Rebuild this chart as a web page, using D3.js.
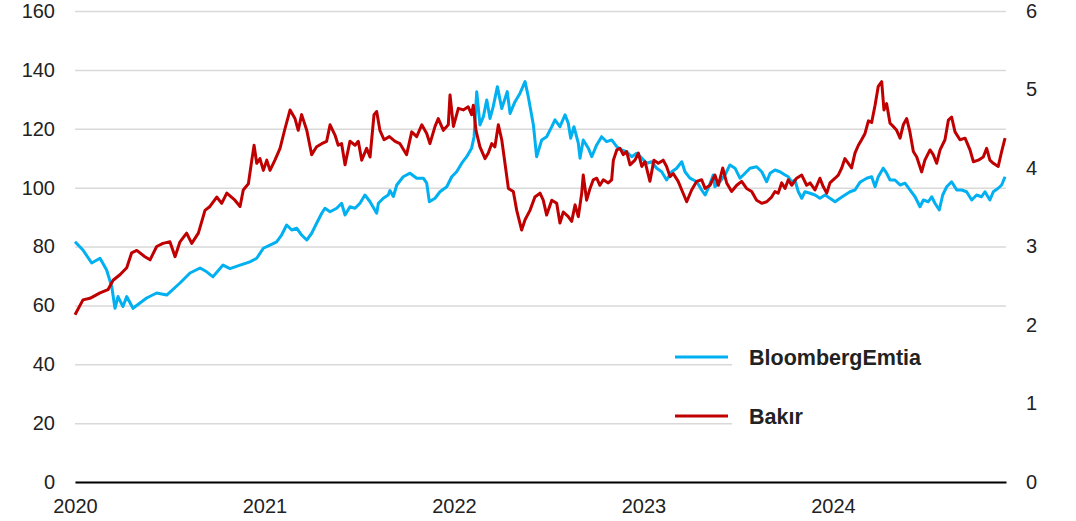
<!DOCTYPE html>
<html>
<head>
<meta charset="utf-8">
<script src="https://cdn.jsdelivr.net/npm/d3@7"></script>
<style>
  body { margin: 0; background: #fff; }
  svg { display: block; font-family: "Liberation Sans", Arial, sans-serif; }
</style>
</head>
<body>
<svg id="chart"></svg>
<script>
const width = 1076;
const height = 521;

// tick values
const years = [2020, 2021, 2022, 2023, 2024];
const leftTicks = [0, 20, 40, 60, 80, 100, 120, 140, 160];
const rightTicks = [0, 1, 2, 3, 4, 5, 6];

// series: [decimal year, value]
const emtia = [
  [2020.000, 81.6], [2020.042, 78.8], [2020.088, 74.4], [2020.132, 76.0], [2020.167, 72.0],
  [2020.194, 66.3], [2020.211, 59.0], [2020.227, 63.0], [2020.253, 59.6], [2020.273, 63.0],
  [2020.306, 59.0], [2020.378, 62.5], [2020.431, 64.2], [2020.484, 63.5], [2020.554, 67.6],
  [2020.607, 71.0], [2020.660, 72.7], [2020.695, 71.4], [2020.728, 69.7], [2020.781, 73.7],
  [2020.818, 72.5], [2020.871, 73.7], [2020.923, 74.8], [2020.959, 76.0], [2020.994, 79.4],
  [2021.029, 80.5], [2021.064, 81.6], [2021.090, 83.9], [2021.117, 87.3], [2021.144, 85.6],
  [2021.170, 86.2], [2021.196, 83.9], [2021.223, 82.2], [2021.249, 84.5], [2021.275, 87.9],
  [2021.302, 91.3], [2021.319, 93.0], [2021.346, 91.8], [2021.381, 93.0], [2021.407, 94.7],
  [2021.425, 90.7], [2021.451, 93.5], [2021.478, 93.0], [2021.504, 94.7], [2021.530, 97.5],
  [2021.557, 95.2], [2021.592, 91.3], [2021.601, 94.7], [2021.627, 96.4], [2021.653, 97.5],
  [2021.662, 99.0], [2021.680, 97.0], [2021.698, 100.9], [2021.732, 103.7], [2021.768, 104.9],
  [2021.803, 103.2], [2021.838, 103.2], [2021.856, 101.5], [2021.870, 95.2], [2021.900, 96.4],
  [2021.926, 98.6], [2021.962, 100.3], [2021.988, 103.7], [2022.014, 105.4], [2022.041, 108.3],
  [2022.067, 110.5], [2022.093, 113.4], [2022.106, 117.3], [2022.120, 132.6], [2022.137, 121.3],
  [2022.155, 124.1], [2022.173, 129.8], [2022.190, 123.5], [2022.207, 127.5], [2022.229, 134.3],
  [2022.252, 126.9], [2022.281, 132.6], [2022.296, 125.2], [2022.322, 129.2], [2022.348, 132.0],
  [2022.375, 136.0], [2022.392, 130.9], [2022.419, 121.3], [2022.436, 110.5], [2022.463, 116.2],
  [2022.489, 117.3], [2022.516, 120.7], [2022.533, 123.0], [2022.559, 120.7], [2022.586, 124.7],
  [2022.603, 121.9], [2022.616, 116.8], [2022.633, 120.7], [2022.656, 115.1], [2022.665, 110.0],
  [2022.682, 116.2], [2022.709, 113.4], [2022.727, 110.5], [2022.753, 114.5], [2022.779, 117.3],
  [2022.806, 115.6], [2022.832, 116.2], [2022.859, 113.9], [2022.885, 112.8], [2022.911, 112.2],
  [2022.938, 110.5], [2022.964, 111.7], [2022.991, 110.0], [2023.017, 108.3], [2023.043, 108.8],
  [2023.070, 106.6], [2023.096, 105.4], [2023.122, 102.6], [2023.149, 105.4], [2023.175, 106.6],
  [2023.202, 108.8], [2023.219, 105.4], [2023.245, 103.2], [2023.281, 102.0], [2023.307, 99.2],
  [2023.325, 97.5], [2023.342, 99.8], [2023.368, 104.3], [2023.377, 100.3], [2023.404, 102.0],
  [2023.430, 104.3], [2023.456, 107.7], [2023.483, 106.6], [2023.509, 103.2], [2023.536, 104.9],
  [2023.562, 106.6], [2023.597, 107.1], [2023.624, 105.4], [2023.650, 102.0], [2023.668, 104.9],
  [2023.694, 106.0], [2023.720, 105.4], [2023.747, 104.3], [2023.764, 103.7], [2023.782, 102.0],
  [2023.799, 102.6], [2023.817, 98.6], [2023.835, 96.4], [2023.852, 98.6], [2023.879, 98.1],
  [2023.905, 97.5], [2023.931, 96.4], [2023.958, 97.5], [2023.984, 96.4], [2024.011, 95.2],
  [2024.037, 96.4], [2024.063, 97.5], [2024.090, 98.6], [2024.116, 99.2], [2024.142, 101.8],
  [2024.178, 103.2], [2024.204, 103.7], [2024.222, 100.3], [2024.239, 103.7], [2024.265, 106.6],
  [2024.283, 104.9], [2024.301, 102.6], [2024.327, 102.6], [2024.354, 100.9], [2024.380, 101.5],
  [2024.406, 99.2], [2024.433, 96.9], [2024.459, 93.5], [2024.477, 95.8], [2024.503, 95.2],
  [2024.521, 96.9], [2024.538, 94.7], [2024.561, 92.4], [2024.579, 97.5], [2024.600, 100.3],
  [2024.626, 102.0], [2024.653, 99.2], [2024.679, 99.2], [2024.705, 98.6], [2024.732, 95.8],
  [2024.758, 97.5], [2024.784, 96.9], [2024.802, 98.6], [2024.828, 95.8], [2024.846, 98.6],
  [2024.872, 99.8], [2024.890, 100.9], [2024.908, 103.7]
];

const bakir = [
  [2020.000, 2.13], [2020.042, 2.32], [2020.079, 2.34], [2020.132, 2.41], [2020.174, 2.45],
  [2020.201, 2.57], [2020.237, 2.64], [2020.273, 2.73], [2020.299, 2.92], [2020.326, 2.95],
  [2020.369, 2.87], [2020.396, 2.83], [2020.431, 3.00], [2020.464, 3.04], [2020.501, 3.06],
  [2020.528, 2.87], [2020.554, 3.06], [2020.589, 3.17], [2020.616, 3.04], [2020.651, 3.17],
  [2020.686, 3.46], [2020.712, 3.51], [2020.748, 3.63], [2020.774, 3.55], [2020.801, 3.68],
  [2020.844, 3.59], [2020.871, 3.51], [2020.888, 3.72], [2020.915, 3.80], [2020.933, 4.10],
  [2020.945, 4.29], [2020.959, 4.06], [2020.976, 4.12], [2020.994, 3.97], [2021.012, 4.10],
  [2021.029, 3.97], [2021.055, 4.10], [2021.082, 4.25], [2021.108, 4.50], [2021.135, 4.74],
  [2021.161, 4.63], [2021.178, 4.48], [2021.196, 4.68], [2021.223, 4.48], [2021.249, 4.17],
  [2021.275, 4.27], [2021.302, 4.31], [2021.328, 4.34], [2021.346, 4.55], [2021.372, 4.42],
  [2021.389, 4.29], [2021.407, 4.31], [2021.425, 4.04], [2021.451, 4.34], [2021.478, 4.29],
  [2021.495, 4.34], [2021.513, 4.10], [2021.539, 4.25], [2021.557, 4.14], [2021.578, 4.68],
  [2021.592, 4.72], [2021.609, 4.48], [2021.631, 4.36], [2021.659, 4.40], [2021.689, 4.34],
  [2021.715, 4.31], [2021.750, 4.17], [2021.777, 4.46], [2021.803, 4.40], [2021.830, 4.55],
  [2021.856, 4.44], [2021.873, 4.31], [2021.900, 4.53], [2021.917, 4.63], [2021.944, 4.48],
  [2021.970, 4.55], [2021.979, 4.93], [2021.997, 4.53], [2022.023, 4.76], [2022.049, 4.74],
  [2022.075, 4.78], [2022.093, 4.68], [2022.102, 4.80], [2022.116, 4.48], [2022.137, 4.27],
  [2022.164, 4.12], [2022.181, 4.19], [2022.199, 4.31], [2022.216, 4.27], [2022.234, 4.55],
  [2022.252, 4.36], [2022.269, 4.06], [2022.287, 3.74], [2022.313, 3.70], [2022.331, 3.46],
  [2022.357, 3.21], [2022.375, 3.34], [2022.401, 3.46], [2022.427, 3.63], [2022.454, 3.68],
  [2022.471, 3.59], [2022.489, 3.40], [2022.516, 3.59], [2022.542, 3.55], [2022.559, 3.30],
  [2022.577, 3.44], [2022.603, 3.38], [2022.621, 3.32], [2022.639, 3.53], [2022.656, 3.38],
  [2022.674, 3.68], [2022.682, 3.91], [2022.700, 3.59], [2022.718, 3.74], [2022.735, 3.85],
  [2022.753, 3.87], [2022.770, 3.78], [2022.788, 3.85], [2022.814, 3.81], [2022.832, 3.85],
  [2022.841, 4.10], [2022.859, 4.23], [2022.876, 4.25], [2022.893, 4.17], [2022.911, 4.21],
  [2022.929, 4.04], [2022.955, 4.10], [2022.973, 4.19], [2022.991, 4.02], [2023.008, 4.08],
  [2023.034, 3.83], [2023.055, 4.10], [2023.078, 4.06], [2023.104, 4.10], [2023.122, 4.02],
  [2023.140, 3.89], [2023.157, 3.93], [2023.183, 3.83], [2023.202, 3.72], [2023.228, 3.57],
  [2023.254, 3.72], [2023.281, 3.83], [2023.307, 3.85], [2023.325, 3.74], [2023.351, 3.78],
  [2023.377, 3.91], [2023.395, 3.78], [2023.418, 4.00], [2023.439, 3.81], [2023.465, 3.70],
  [2023.492, 3.78], [2023.518, 3.83], [2023.544, 3.74], [2023.571, 3.70], [2023.597, 3.59],
  [2023.624, 3.55], [2023.650, 3.57], [2023.676, 3.63], [2023.694, 3.70], [2023.711, 3.68],
  [2023.729, 3.81], [2023.747, 3.74], [2023.764, 3.85], [2023.782, 3.78], [2023.808, 3.87],
  [2023.835, 3.91], [2023.861, 3.78], [2023.879, 3.81], [2023.905, 3.72], [2023.931, 3.87],
  [2023.949, 3.76], [2023.967, 3.68], [2023.984, 3.81], [2024.011, 3.87], [2024.028, 3.91],
  [2024.046, 4.00], [2024.063, 4.12], [2024.081, 4.06], [2024.098, 4.00], [2024.116, 4.19],
  [2024.134, 4.29], [2024.151, 4.36], [2024.169, 4.44], [2024.187, 4.60], [2024.204, 4.58],
  [2024.222, 4.80], [2024.239, 5.04], [2024.257, 5.10], [2024.269, 4.74], [2024.283, 4.82],
  [2024.301, 4.57], [2024.318, 4.53], [2024.336, 4.48], [2024.354, 4.38], [2024.371, 4.55],
  [2024.389, 4.63], [2024.406, 4.46], [2024.424, 4.21], [2024.442, 4.14], [2024.468, 3.95],
  [2024.485, 4.10], [2024.512, 4.23], [2024.529, 4.17], [2024.547, 4.06], [2024.565, 4.23],
  [2024.591, 4.36], [2024.609, 4.61], [2024.626, 4.65], [2024.644, 4.46], [2024.670, 4.36],
  [2024.697, 4.38], [2024.723, 4.23], [2024.741, 4.08], [2024.767, 4.10], [2024.793, 4.14],
  [2024.811, 4.25], [2024.828, 4.10], [2024.846, 4.06], [2024.872, 4.02], [2024.890, 4.21],
  [2024.908, 4.38]
];

const seriesNames = ["BloombergEmtia", "Bakır"];
const seriesColors = ["#00b0f0", "#c00000"];

const plotLeft = 75, plotRight = 1006, plotTop = 11, plotBottom = 482;

const svg = d3.select("#chart")
  .attr("width", width)
  .attr("height", height);

svg.append("rect").attr("width", width).attr("height", height).attr("fill", "#fff");

const x = d3.scaleLinear().domain([2020, 2024.913]).range([plotLeft, plotRight]);
const yL = d3.scaleLinear().domain([0, 160]).range([plotBottom, plotTop]);
const yR = d3.scaleLinear().domain([0, 6]).range([plotBottom, plotTop]);

// left axis + gridlines
const gL = svg.append("g")
  .attr("transform", `translate(${plotLeft},0)`)
  .call(d3.axisLeft(yL).tickValues(leftTicks).tickSize(-(plotRight - plotLeft)).tickPadding(20).tickFormat(d3.format("d")));
gL.select(".domain").remove();
gL.selectAll(".tick line")
  .attr("stroke", "#d9d9d9")
  .attr("stroke-width", 1.5);
gL.selectAll(".tick text")
  .attr("font-size", 20)
  .attr("fill", "#222");

// white box behind the legend hides part of the gridlines
svg.append("rect")
  .attr("x", 732).attr("y", 330)
  .attr("width", plotRight - 732).attr("height", 115)
  .attr("fill", "#fff");

// right axis
const gR = svg.append("g")
  .attr("transform", `translate(${plotRight},0)`)
  .call(d3.axisRight(yR).tickValues(rightTicks).tickSize(0).tickPadding(20).tickFormat(d3.format("d")));
gR.select(".domain").remove();
gR.selectAll(".tick text")
  .attr("font-size", 20)
  .attr("fill", "#222");

// x axis
const gX = svg.append("g")
  .attr("transform", `translate(0,${plotBottom})`)
  .call(d3.axisBottom(x).tickValues(years).tickSize(0).tickPadding(17).tickFormat(d3.format("d")));
gX.select(".domain")
  .attr("stroke", "#000")
  .attr("stroke-width", 2);
gX.selectAll(".tick text")
  .attr("font-size", 20)
  .attr("fill", "#222");

// lines
const lineL = d3.line().x(d => x(d[0])).y(d => yL(d[1]));
const lineR = d3.line().x(d => x(d[0])).y(d => yR(d[1]));

svg.append("path")
  .datum(emtia)
  .attr("d", lineL)
  .attr("fill", "none")
  .attr("stroke", seriesColors[0])
  .attr("stroke-width", 3)
  .attr("stroke-linejoin", "round");

svg.append("path")
  .datum(bakir)
  .attr("d", lineR)
  .attr("fill", "none")
  .attr("stroke", seriesColors[1])
  .attr("stroke-width", 3)
  .attr("stroke-linejoin", "round");

// legend
const legend = svg.append("g").selectAll("g")
  .data(seriesNames)
  .join("g")
  .attr("transform", (d, i) => `translate(675,${357 + i * 59})`);

legend.append("line")
  .attr("x1", 0).attr("x2", 53)
  .attr("stroke", (d, i) => seriesColors[i])
  .attr("stroke-width", 3);

legend.append("text")
  .attr("x", 74)
  .attr("dy", "0.35em")
  .attr("font-size", 21.5)
  .attr("font-weight", "bold")
  .attr("fill", "#222")
  .text(d => d);
</script>
</body>
</html>
